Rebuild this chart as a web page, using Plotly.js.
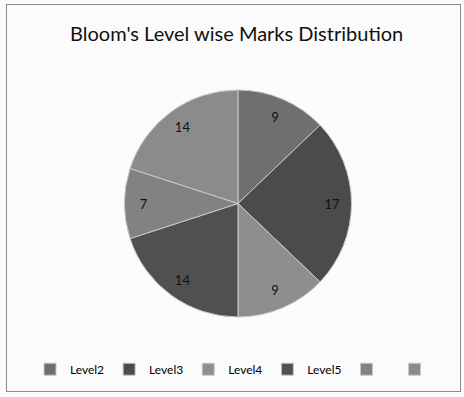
<!DOCTYPE html>
<html><head><meta charset="utf-8">
<script src="https://cdn.plot.ly/plotly-3.0.1.min.js"></script>
<style>
html,body{margin:0;padding:0;background:#fbfbfb;}
#frame{position:absolute;left:6px;top:4px;width:455px;height:388px;border:1px solid #8a8a8a;box-sizing:border-box;}
#chart{position:absolute;left:0;top:0;width:464px;height:397px;}
</style></head>
<body>
<div id="chart"></div>
<div id="frame"></div>
<script>
var labels = ["Level2", "Level3", "Level4", "Level5", " ", "  "];
var values = [9, 17, 9, 14, 7, 14];
var colors = ["#6f6f6f", "#4b4b4b", "#8e8e8e", "#505050", "#828282", "#8b8b8b"];

var font = "Lato, 'Liberation Sans', sans-serif";
var dom = {x: [0, 1], y: [0, 1]};

var slices = {
  type: "pie",
  labels: labels,
  values: values,
  sort: false,
  direction: "clockwise",
  rotation: 0,
  domain: dom,
  marker: {colors: colors, line: {color: "#c8c8c8", width: 1}},
  textinfo: "none",
  hoverinfo: "label+value"
};

// same data again, as a transparent ring, so the value labels sit near the rim
var valueLabels = {
  type: "pie",
  labels: labels,
  values: values,
  sort: false,
  direction: "clockwise",
  rotation: 0,
  domain: dom,
  hole: 0.66,
  showlegend: false,
  marker: {colors: labels.map(function(){return "rgba(0,0,0,0)";}), line: {width: 0}},
  textinfo: "value",
  textposition: "inside",
  insidetextorientation: "horizontal",
  textfont: {family: font, size: 13, color: "#111"},
  hoverinfo: "skip"
};

var layout = {
  width: 464, height: 397,
  paper_bgcolor: "#fbfbfb",
  margin: {l: 12, r: 0, t: 90, b: 80},
  title: {text: "Bloom's Level wise Marks Distribution", x: 0.51, xanchor: "center", y: 0.915, yanchor: "middle",
          font: {family: font, size: 20, color: "#111"}},
  showlegend: true,
  legend: {orientation: "h", x: 0.5, xanchor: "center", y: -0.23, yanchor: "middle",
           font: {family: font, size: 12, color: "#000"},
           traceorder: "normal", itemwidth: 30}
};

Plotly.newPlot("chart", [slices, valueLabels], layout, {displayModeBar: false, staticPlot: true});
</script>
</body></html>
